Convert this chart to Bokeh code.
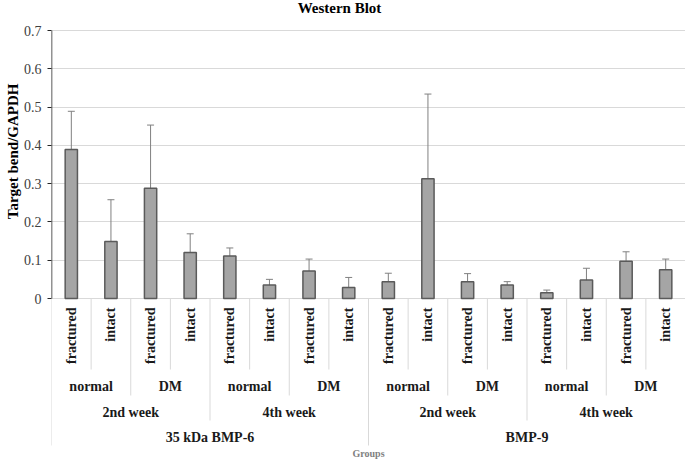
from math import pi
from bokeh.plotting import figure
from bokeh.models import Range1d, FixedTicker, Whisker, TeeHead, ColumnDataSource, Title
from bokeh.core.properties import value
from bokeh.embed import file_html
from bokeh.resources import INLINE

# ---------------- data ----------------
proteins = ["35 kDa BMP-6"] * 8 + ["BMP-9"] * 8
weeks = (["2nd week"] * 4 + ["4th week"] * 4) * 2
conditions = (["normal"] * 2 + ["DM"] * 2) * 4
bones = ["fractured", "intact"] * 8
means = [0.389, 0.149, 0.288, 0.120, 0.111, 0.035, 0.072, 0.029,
         0.044, 0.313, 0.044, 0.035, 0.015, 0.048, 0.097, 0.075]
errors = [0.100, 0.109, 0.165, 0.049, 0.021, 0.015, 0.031, 0.026,
          0.022, 0.221, 0.021, 0.009, 0.007, 0.031, 0.025, 0.028]
tick_values = [0, 0.1, 0.2, 0.3, 0.4, 0.5, 0.6, 0.7]
tick_labels = ["0", "0.1", "0.2", "0.3", "0.4", "0.5", "0.6", "0.7"]
title_text = "Western Blot"
y_label = "Target bend/GAPDH"
x_label = "Groups"

# ---------------- layout constants ----------------
FONT = "Liberation Serif"
Y_MAX = 0.7
W, H = 685, 461
LEFT, TOP = 51, 30               # left border; px from canvas top to Y_MAX
CHART_PX = 268                   # pixel height of value area (0..Y_MAX)
TABLE_PX = H - TOP - CHART_PX    # pixel height of category table area below
ROW_BOTTOMS = [71, 97, 122, 147]   # bottoms of the 4 label rows (px below 0)
ROW_TEXT_Y = [9, 88, 114, 139]
GROUPS_Y = 155
TITLE_Y = 7                      # px from canvas top
TITLE_DX = -29                   # px shift of title from frame centre
n = len(means)

y_start = -Y_MAX * TABLE_PX / CHART_PX
y_end = Y_MAX * (CHART_PX + TOP) / CHART_PX

p = figure(width=W, height=H,
           x_range=Range1d(0, n), y_range=Range1d(y_start, y_end),
           output_backend="svg", toolbar_location=None,
           x_axis_location=None,
           min_border_left=LEFT, min_border_right=0,
           min_border_top=0, min_border_bottom=0)
# pixel-like range: 0 at the value baseline, positive downwards
p.extra_y_ranges = {"table": Range1d(start=TABLE_PX, end=-(CHART_PX + TOP))}
p.outline_line_color = None
p.background_fill_color = "white"
p.border_fill_color = "white"

# y axis
ax = p.yaxis[0]
ax.ticker = FixedTicker(ticks=tick_values)
ax.major_label_overrides = {t: l for t, l in zip(tick_values, tick_labels)}
ax.axis_line_color = None
ax.major_tick_in = 0
ax.major_tick_out = 4
ax.major_tick_line_color = "#262626"
ax.minor_tick_line_color = None
ax.major_label_standoff = 6
ax.major_label_text_font = FONT
ax.major_label_text_font_size = "14px"
ax.major_label_text_color = "#404040"

# y-axis title placed on the left, aligned to the value area
p.add_layout(Title(text=y_label, align="right", offset=TOP + 53, standoff=0,
                   text_font=FONT, text_font_size="15px", text_font_style="bold",
                   text_color="#000000"), "left")

p.ygrid.ticker = FixedTicker(ticks=tick_values)
p.ygrid.grid_line_color = "#d9d9d9"
p.ygrid.grid_line_width = 1
p.xgrid.visible = False

# chart title
p.text(x=[(p.x_range.start + p.x_range.end) / 2], y=[-(CHART_PX + TOP) + TITLE_Y],
       text=[title_text], y_range_name="table", x_offset=TITLE_DX,
       text_align="center", text_baseline="middle",
       text_font=value(FONT), text_font_size="15px", text_font_style="bold",
       text_color="#000000")

# ---------------- bars + error bars ----------------
centers = [i + 0.5 for i in range(n)]
src = ColumnDataSource(dict(
    x=centers, top=means,
    upper=[m + e for m, e in zip(means, errors)],
    lower=[m - e for m, e in zip(means, errors)],
))
p.vbar(x="x", top="top", bottom=0, width=0.31, source=src,
       fill_color="#a5a5a5", line_color="#5a5a5a", line_width=1.5)

wh = Whisker(base="x", upper="upper", lower="lower", source=src,
             line_color="#808080", line_width=1,
             upper_head=TeeHead(size=7, line_color="#808080", line_width=1),
             lower_head=TeeHead(size=7, line_color="#808080", line_width=1))
p.add_layout(wh)

# y axis line (from 0 to top of value range)
p.segment(x0=[p.x_range.start], y0=[0], x1=[p.x_range.start], y1=[Y_MAX],
          line_color="#262626", line_width=1.5)

# ---------------- category table ----------------
sx, sy0, sy1 = [], [], []
for b in range(0, n + 1):
    if b % 8 == 0:
        depth = ROW_BOTTOMS[3]
    elif b % 4 == 0:
        depth = ROW_BOTTOMS[2]
    elif b % 2 == 0:
        depth = ROW_BOTTOMS[1]
    else:
        depth = ROW_BOTTOMS[0]
    sx.append(b)
    sy0.append(0)
    sy1.append(depth)
p.segment(x0=sx, y0=sy0, x1=sx, y1=sy1, y_range_name="table",
          line_color="#d9d9d9", line_width=1)


def runs(keys):
    out = []
    start = 0
    for i in range(1, len(keys) + 1):
        if i == len(keys) or keys[i] != keys[start]:
            out.append(((start + i) / 2, keys[start][-1]))
            start = i
    return out


p.text(x=centers, y=[ROW_TEXT_Y[0]] * n, text=bones, y_range_name="table",
       angle=pi / 2, text_align="right", text_baseline="middle",
       text_font=value(FONT), text_font_size="14px", text_font_style="bold",
       text_color="#1a1a1a")

levels = [
    list(zip(proteins, weeks, conditions)),
    list(zip(proteins, weeks)),
    list(zip(proteins)),
]
for lvl, keys in enumerate(levels):
    r = runs(keys)
    p.text(x=[c for c, _ in r], y=[ROW_TEXT_Y[lvl + 1]] * len(r),
           text=[t for _, t in r], y_range_name="table",
           text_align="center", text_baseline="middle",
           text_font=value(FONT), text_font_size="14px",
           text_font_style="bold", text_color="#1a1a1a")

p.text(x=[(p.x_range.start + p.x_range.end) / 2], y=[GROUPS_Y], text=[x_label],
       y_range_name="table", text_align="center", text_baseline="middle",
       text_font=value(FONT), text_font_size="10px", text_font_style="bold",
       text_color="#7f7f7f")

open("out.html", "w").write(file_html(p, INLINE))
